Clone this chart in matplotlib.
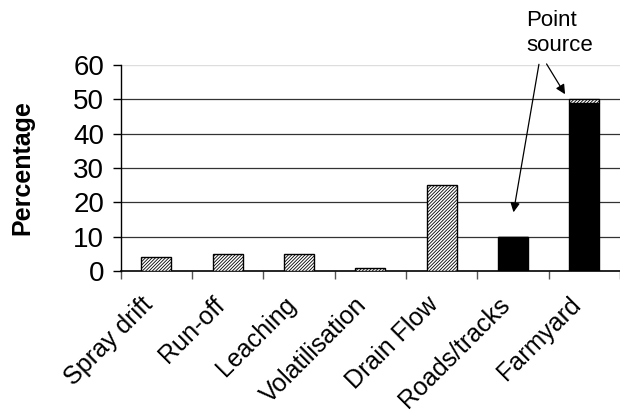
import matplotlib
matplotlib.use("Agg")
import matplotlib.pyplot as plt
import numpy as np

categories = ["Spray drift", "Run-off", "Leaching", "Volatilisation",
              "Drain Flow", "Roads/tracks", "Farmyard"]
diffuse = [4, 5, 5, 1, 25, 0, 1]      # hatched part
point = [0, 0, 0, 0, 0, 10, 49]       # black (point source) part
yticks = [0, 10, 20, 30, 40, 50, 60]

plt.rcParams["font.family"] = ["Liberation Sans", "DejaVu Sans"]
plt.rcParams["hatch.linewidth"] = 0.6

fig = plt.figure(figsize=(6.2, 4.18), dpi=100)
ax = fig.add_axes([0.1947, 0.3517, 0.8053, 0.4928])

x = np.arange(len(categories))
ax.bar(x, point, width=0.42, color="black", edgecolor="black", linewidth=1, zorder=3)
ax.bar(x, diffuse, width=0.42, bottom=point, color="white", edgecolor="black",
       hatch="/" * 10, linewidth=1, zorder=3)

ax.set_xlim(-0.5, len(categories) - 0.5)
ax.set_ylim(0, 60)
ax.set_yticks(yticks)
ax.tick_params(axis="y", labelsize=20, direction="out", length=6, width=1, pad=6)
for v in yticks[1:-1]:
    ax.axhline(v, color="#333333", linewidth=0.9, zorder=1)
ax.axhline(60, color="#dddddd", linewidth=1, zorder=1)

ax.set_xticks(np.arange(len(categories) + 1) - 0.5)
ax.set_xticklabels([])
ax.tick_params(axis="x", direction="out", length=6, width=1, color="#555555")
for i, c in enumerate(categories):
    ax.text(i - 0.22, -6.3, c, rotation=45, ha="right", va="top",
            rotation_mode="anchor", fontsize=18, clip_on=False)

for s in ["top", "right"]:
    ax.spines[s].set_visible(False)
ax.spines["left"].set_linewidth(1)
ax.spines["bottom"].set_linewidth(1.2)

ax.set_ylabel("Percentage", fontsize=18, fontweight="bold", labelpad=28)

ax.text(5.19, 69.2, "Point\nsource", ha="left", va="center", fontsize=16,
        linespacing=1.25, clip_on=False)
ax.annotate("", xy=(5.0, 16.3), xytext=(5.37, 61.0), annotation_clip=False,
            arrowprops=dict(arrowstyle="-|>", color="black", lw=0.9, mutation_scale=14))
ax.annotate("", xy=(5.75, 50.8), xytext=(5.45, 61.0), annotation_clip=False,
            arrowprops=dict(arrowstyle="-|>", color="black", lw=0.9, mutation_scale=14))

fig.savefig("out.png", dpi=100)
